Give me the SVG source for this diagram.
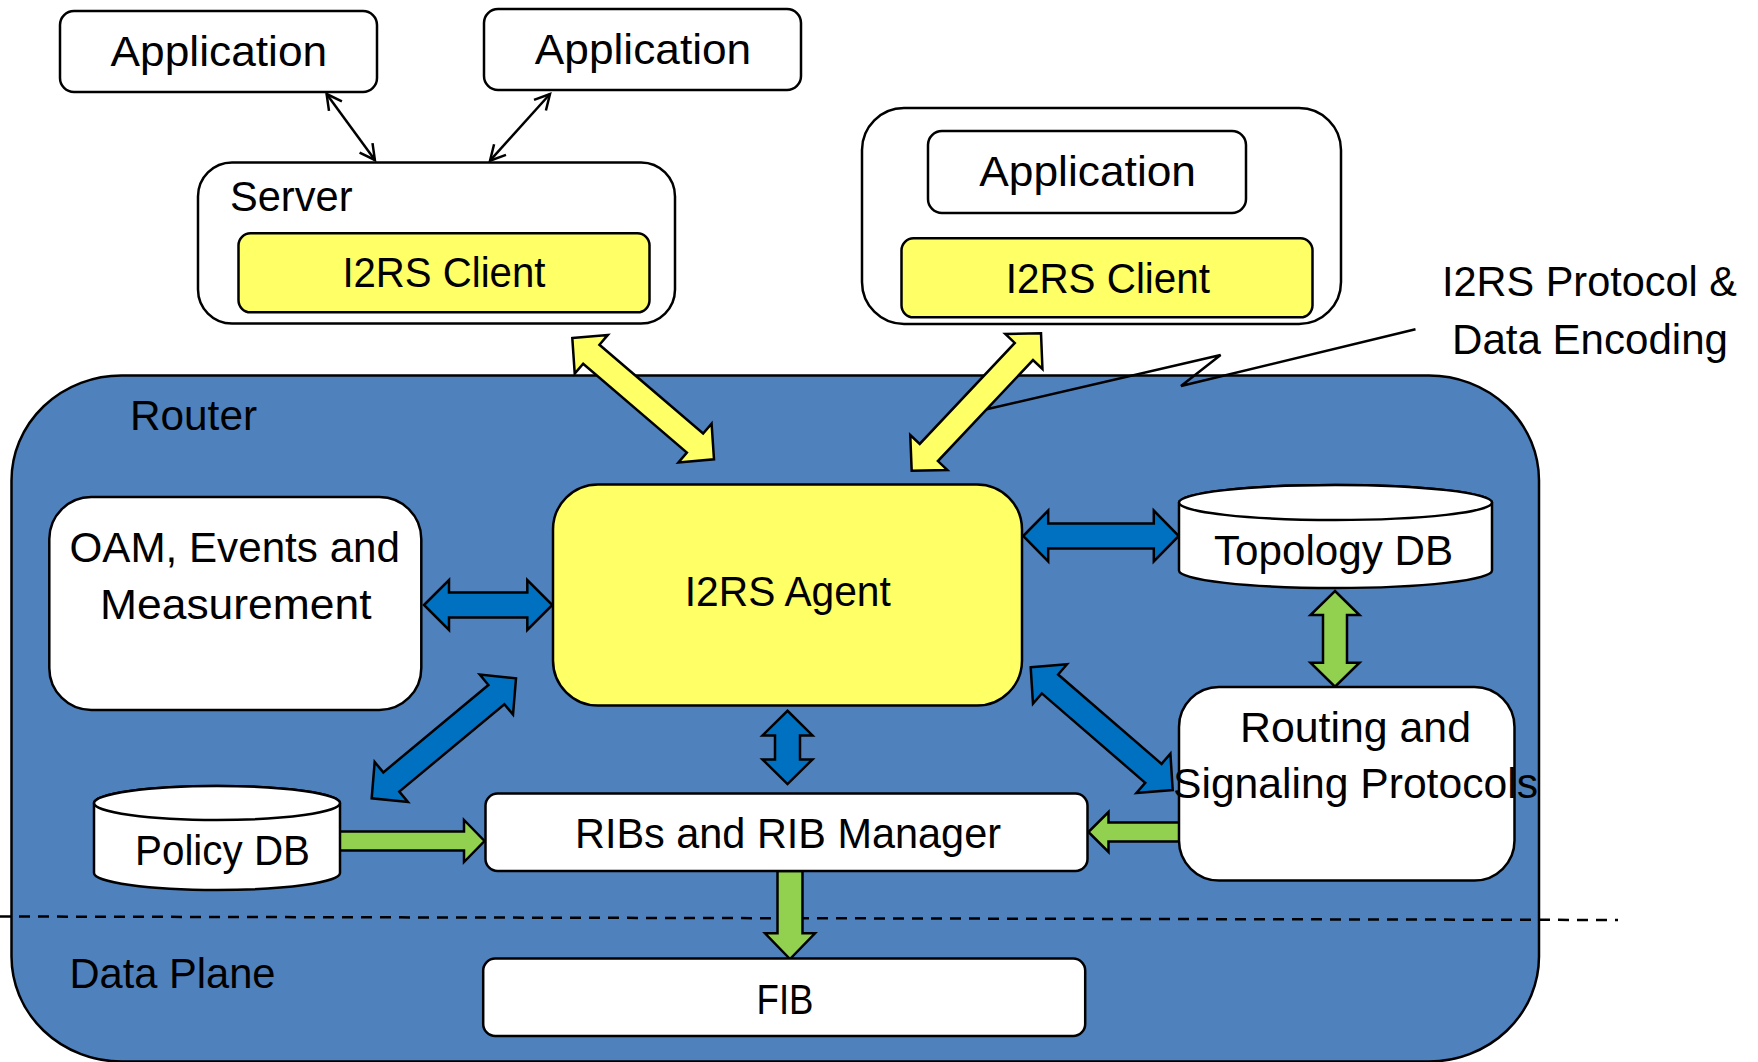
<svg xmlns="http://www.w3.org/2000/svg" width="1758" height="1062" viewBox="0 0 1758 1062">
<style>
.t{font-family:"Liberation Sans",Arial,sans-serif;font-size:42px;fill:#000}
.box{fill:#fff;stroke:#000;stroke-width:2.5}
.yel{fill:#FFFF66;stroke:#000;stroke-width:2.5}
.ya{fill:#FFFF66;stroke:#000;stroke-width:2.5;stroke-linejoin:miter}
.ba{fill:#0070C0;stroke:#000;stroke-width:2.5;stroke-linejoin:miter}
.ga{fill:#92D050;stroke:#000;stroke-width:2.5;stroke-linejoin:miter}
.thin{fill:none;stroke:#000;stroke-width:2.5}
</style>
<defs>
<marker id="vh" markerUnits="userSpaceOnUse" markerWidth="24" markerHeight="24" viewBox="-20 -12 24 24" refX="0" refY="0" orient="auto-start-reverse">
<path d="M-15,-8 L0,0 L-15,8" fill="none" stroke="#000" stroke-width="2.5"/>
</marker>
</defs>

<g id="router">
<rect x="11.5" y="375.5" width="1527.5" height="686" rx="110" ry="105" fill="#4F81BD" stroke="#000" stroke-width="2.5"/>
<text class="t" x="130" y="429.5" textLength="127" lengthAdjust="spacingAndGlyphs">Router</text>
<text class="t" x="69.5" y="988" textLength="206" lengthAdjust="spacingAndGlyphs">Data Plane</text>
</g>

<g id="plane-separator">
<line x1="0" y1="916.5" x2="1618" y2="920" stroke="#000" stroke-width="2.5" stroke-dasharray="11 8"/>
</g>

<g id="protocol-label">
<polyline class="thin" points="1415.5,329.3 1181,386 1220.6,355 983.4,410"/>
<text class="t" x="1442" y="296" textLength="295" lengthAdjust="spacingAndGlyphs">I2RS Protocol &amp;</text>
<text class="t" x="1452" y="354" textLength="276" lengthAdjust="spacingAndGlyphs">Data Encoding</text>
</g>

<g id="connectors">
<line class="thin" x1="326.6" y1="94" x2="374.9" y2="160" marker-start="url(#vh)" marker-end="url(#vh)"/>
<line class="thin" x1="550" y1="94" x2="490" y2="160.7" marker-start="url(#vh)" marker-end="url(#vh)"/>
<path class="ya" transform="translate(643.15,398.65) rotate(40.56)" d="M-93.25,0 L-68.25,-25.5 L-68.25,-12.5 L68.25,-12.5 L68.25,-25.5 L93.25,0 L68.25,25.5 L68.25,12.5 L-68.25,12.5 L-68.25,25.5 Z"/>
<path class="ya" transform="translate(976.35,402) rotate(-46.74)" d="M-94.35,0 L-69.35,-25.5 L-69.35,-12.5 L69.35,-12.5 L69.35,-25.5 L94.35,0 L69.35,25.5 L69.35,12.5 L-69.35,12.5 L-69.35,25.5 Z"/>
<path class="ba" transform="translate(488.15,605)" d="M-64.15,0 L-39.15,-25 L-39.15,-12.5 L39.15,-12.5 L39.15,-25 L64.15,0 L39.15,25 L39.15,12.5 L-39.15,12.5 L-39.15,25 Z"/>
<path class="ba" transform="translate(1101,536)" d="M-77.8,0 L-52.8,-25.5 L-52.8,-12.5 L52.8,-12.5 L52.8,-25.5 L77.8,0 L52.8,25.5 L52.8,12.5 L-52.8,12.5 L-52.8,25.5 Z"/>
<path class="ba" transform="translate(787.5,747.4) rotate(90)" d="M-36.65,0 L-12,-25 L-12,-12.5 L12,-12.5 L12,-25 L36.65,0 L12,25 L12,12.5 L-12,12.5 L-12,25 Z"/>
<path class="ba" transform="translate(443.85,738.3) rotate(-39.75)" d="M-93.85,0 L-68.35,-26 L-68.35,-12.5 L68.35,-12.5 L68.35,-26 L93.85,0 L68.35,26 L68.35,12.5 L-68.35,12.5 L-68.35,26 Z"/>
<path class="ba" transform="translate(1101.7,728.65) rotate(40.83)" d="M-93.85,0 L-68.35,-26 L-68.35,-12.5 L68.35,-12.5 L68.35,-26 L93.85,0 L68.35,26 L68.35,12.5 L-68.35,12.5 L-68.35,26 Z"/>
<path class="ga" transform="translate(1335,638.85) rotate(90)" d="M-47.85,0 L-23.85,-24.5 L-23.85,-12 L23.85,-12 L23.85,-24.5 L47.85,0 L23.85,24.5 L23.85,12 L-23.85,12 L-23.85,24.5 Z"/>
<path class="ga" d="M1182,822.5 L1108.5,822.5 L1108.5,812 L1088.4,832 L1108.5,852 L1108.5,841.5 L1182,841.5 Z"/>
<path class="ga" d="M336,831.5 L464,831.5 L464,820 L484.5,841 L464,862 L464,850.5 L336,850.5 Z"/>
<path class="ga" d="M777.5,871 L777.5,933.3 L765,933.3 L790,959 L815,933.3 L802.5,933.3 L802.5,871 Z"/>
</g>

<g id="app1">
<rect class="box" x="60" y="11" width="317" height="81" rx="14"/>
<text class="t" x="110.6" y="65.7" textLength="216.6" lengthAdjust="spacingAndGlyphs">Application</text>
</g>
<g id="app2">
<rect class="box" x="484" y="9" width="317" height="81" rx="14"/>
<text class="t" x="534.8" y="63.5" textLength="216.4" lengthAdjust="spacingAndGlyphs">Application</text>
</g>
<g id="server">
<rect class="box" x="198" y="162.5" width="477" height="161" rx="34"/>
<text class="t" x="230" y="210.7" textLength="122.5" lengthAdjust="spacingAndGlyphs">Server</text>
</g>
<g id="client1">
<rect class="yel" x="238.5" y="233.3" width="411" height="79" rx="12"/>
<text class="t" x="342.4" y="287.3" textLength="203" lengthAdjust="spacingAndGlyphs">I2RS Client</text>
</g>
<g id="host2">
<rect class="box" x="862" y="108" width="479" height="216" rx="42"/>
</g>
<g id="app3">
<rect class="box" x="928" y="131" width="318" height="82" rx="14"/>
<text class="t" x="979.3" y="186" textLength="216.7" lengthAdjust="spacingAndGlyphs">Application</text>
</g>
<g id="client2">
<rect class="yel" x="901.5" y="238.3" width="411" height="79" rx="12"/>
<text class="t" x="1005.7" y="293.3" textLength="204.3" lengthAdjust="spacingAndGlyphs">I2RS Client</text>
</g>

<g id="oam">
<rect class="box" x="49.3" y="497" width="372" height="213" rx="42"/>
<text class="t" x="69.5" y="562" textLength="330.5" lengthAdjust="spacingAndGlyphs">OAM, Events and</text>
<text class="t" x="100" y="619" textLength="271.5" lengthAdjust="spacingAndGlyphs">Measurement</text>
</g>
<g id="agent">
<rect class="yel" x="553" y="484.5" width="469" height="221" rx="45"/>
<text class="t" x="684.8" y="605.7" textLength="206" lengthAdjust="spacingAndGlyphs">I2RS Agent</text>
</g>
<g id="topology-db">
<path class="box" d="M1179,502.5 V570.5 A156.5,17.5 0 0 0 1492,570.5 V502.5 A156.5,17.5 0 0 0 1179,502.5 Z"/>
<ellipse class="box" cx="1335.5" cy="502.5" rx="156.5" ry="17.5"/>
<text class="t" x="1214" y="565" textLength="239" lengthAdjust="spacingAndGlyphs">Topology DB</text>
</g>
<g id="routing">
<rect class="box" x="1179" y="687" width="335.5" height="193.5" rx="40"/>
<text class="t" x="1240" y="742" textLength="231" lengthAdjust="spacingAndGlyphs">Routing and</text>
<text class="t" x="1173" y="798" textLength="365" lengthAdjust="spacingAndGlyphs">Signaling Protocols</text>
</g>
<g id="policy-db">
<path class="box" d="M94,803 V873 A123,17 0 0 0 340,873 V803 A123,17 0 0 0 94,803 Z"/>
<ellipse class="box" cx="217" cy="803" rx="123" ry="17"/>
<text class="t" x="135" y="865" textLength="175" lengthAdjust="spacingAndGlyphs">Policy DB</text>
</g>
<g id="rib">
<rect class="box" x="485.5" y="793.5" width="602" height="77.5" rx="12"/>
<text class="t" x="575" y="848" textLength="426" lengthAdjust="spacingAndGlyphs">RIBs and RIB Manager</text>
</g>
<g id="fib">
<rect class="box" x="483.2" y="958.6" width="602" height="77.4" rx="12"/>
<text class="t" x="756.5" y="1014" textLength="57" lengthAdjust="spacingAndGlyphs">FIB</text>
</g>
</svg>
